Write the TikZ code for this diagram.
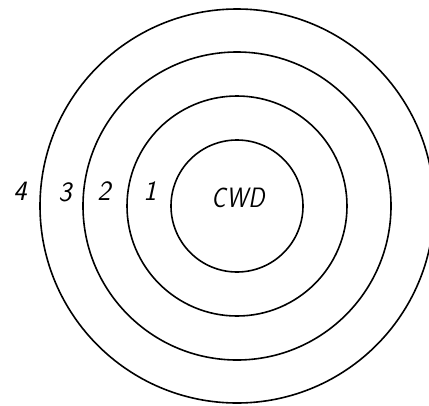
\documentclass[tikz,border=0pt]{standalone}
\usepackage{tikz}

\begin{document}
\begin{tikzpicture}[
  x=1pt, y=-1pt,
  ring/.style={draw=black, line width=1.6pt},
  lbl/.style={font=\fontsize{28}{28}\selectfont\sffamily\slshape, inner sep=0pt},
]
  \useasboundingbox (0,0) rectangle (429,405);
  \clip (0,0) rectangle (429,405);
  \coordinate (cwdc) at (237,206);
  % the rings, innermost first
  \foreach \r in {66,110,154,197}
    \draw[ring] (cwdc) circle[radius=\r pt];
  \node[lbl, xscale=0.85] (cwd) at (238,198) {C\kern1pt W\kern1pt D};
  \node[lbl] (ring1) at (150,191) {1};
  \node[lbl] (ring2) at (104,191) {2};
  \node[lbl] (ring3) at (65,192) {3};
  \node[lbl] (ring4) at (20,191) {4};
\end{tikzpicture}
\end{document}
